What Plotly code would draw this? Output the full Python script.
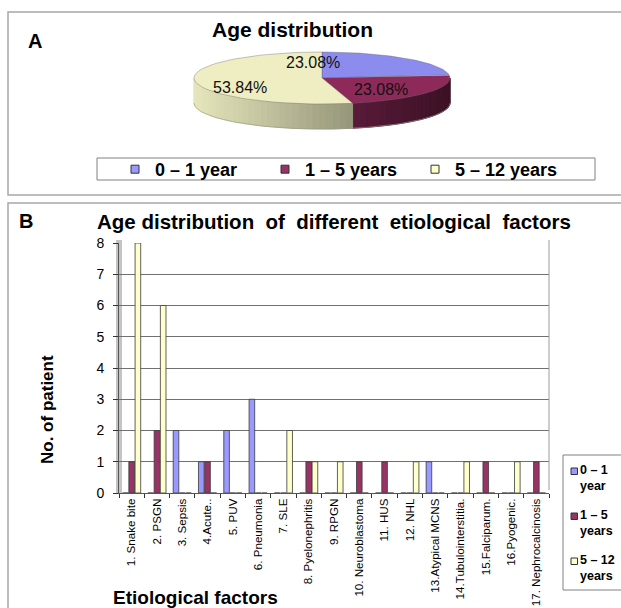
import numpy as np
import plotly.graph_objects as go

W, H = 621, 608

# ---------------- Data ----------------
# Panel A: age distribution (pie)
age_groups = ["0 – 1 year", "1 – 5 years", "5 – 12 years"]
age_pct = [23.08, 23.08, 53.84]

# Panel B: age distribution of different etiological factors
factors = ["1. Snake bite", "2. PSGN", "3. Sepsis", "4.Acute..", "5. PUV",
           "6. Pneumonia", "7. SLE", "8. Pyelonephritis", "9. RPGN",
           "10. Neuroblastoma", "11. HUS", "12. NHL", "13.Atypical MCNS",
           "14.Tubulointerstitia.", "15.Falciparum.", "16.Pyogenic.",
           "17. Nephrocalcinosis"]
age_0_1 = [0, 0, 2, 1, 2, 3, 0, 0, 0, 0, 0, 0, 1, 0, 0, 0, 0]
age_1_5 = [1, 2, 0, 1, 0, 0, 0, 1, 0, 1, 1, 0, 0, 0, 1, 0, 1]
age_5_12 = [8, 6, 0, 0, 0, 0, 2, 1, 1, 0, 0, 1, 0, 1, 0, 1, 0]
bar_names = [("0 – 1", "year"), ("1 – 5", "years"), ("5 – 12", "years")]
y_ticks = [0, 1, 2, 3, 4, 5, 6, 7, 8]

# ---------------- Styles ----------------
FONT = "Arial, Liberation Sans, sans-serif"
top_colors = [(0x8C, 0x8C, 0xEE), (0x8E, 0x2A, 0x5A), (0xEE, 0xEE, 0xC2)]
bar_colors = ["#9999FF", "#993366", "#FFFFCC"]


def px(x):
    return x / W


def py(y):
    return 1 - y / H


def rgb(c, k=1.0):
    return "rgb(%d,%d,%d)" % tuple(max(0, min(255, int(v * k))) for v in c)


def text(x, y, s, size, angle=0, xanchor="center", align="center"):
    fig.add_annotation(x=px(x), y=py(y), xref="paper", yref="paper", text=s,
                       textangle=angle, xanchor=xanchor, yanchor="middle", align=align,
                       showarrow=False, font=dict(family=FONT, size=size, color="#000"))


fig = go.Figure()

# ---------------- Panel A: pseudo-3D pie on a pixel axis ----------------
cx, cy, ra, rb, depth = 322, 78, 128, 26, 25
total = sum(age_pct)
bounds = np.concatenate([[0], np.cumsum(age_pct) / total * 360.0])


def ell(theta_deg, dy=0.0):
    t = np.radians(theta_deg)
    return cx + ra * np.sin(t), cy - rb * np.cos(t) + dy


# side walls (front half only: 90..270 deg clockwise from top)
for i in range(len(age_pct)):
    s, e = max(bounds[i], 90), min(bounds[i + 1], 270)
    if s >= e:
        continue
    n = max(2, int((e - s) / 3) + 1)
    edges = np.linspace(s, e, n)
    for j in range(len(edges) - 1):
        th = np.linspace(edges[j], edges[j + 1], 4)
        xt, yt = ell(th)
        xb, yb = ell(th[::-1], depth)
        f = (np.mean(xt) - (cx - ra)) / (2 * ra)
        col = rgb(top_colors[i], 0.97 - 0.55 * f)
        fig.add_trace(go.Scatter(
            x=np.concatenate([xt, xb, xt[:1]]), y=np.concatenate([yt, yb, yt[:1]]),
            mode="lines", fill="toself", fillcolor=col,
            line=dict(color=col, width=1), xaxis="x2", yaxis="y2",
            showlegend=False, hoverinfo="skip"))

# outline of the bottom rim
thb = np.linspace(90, 270, 80)
xb, yb = ell(thb, depth)
fig.add_trace(go.Scatter(x=xb, y=yb, mode="lines", line=dict(color="#9a9a8a", width=0.6),
                         xaxis="x2", yaxis="y2", showlegend=False, hoverinfo="skip"))

# top faces
for i in range(len(age_pct)):
    th = np.linspace(bounds[i], bounds[i + 1], 60)
    xt, yt = ell(th)
    xs = np.concatenate([[cx], xt, [cx]])
    ys = np.concatenate([[cy], yt, [cy]])
    fig.add_trace(go.Scatter(
        x=xs, y=ys, mode="lines", fill="toself", fillcolor=rgb(top_colors[i]),
        line=dict(color="rgba(90,90,90,0.6)", width=0.6),
        xaxis="x2", yaxis="y2", name=age_groups[i], showlegend=False, hoverinfo="skip"))

# legend entries for panel A (small square keys)
for i in range(len(age_pct)):
    fig.add_trace(go.Scatter(
        x=[None], y=[None], mode="markers", name=age_groups[i], legend="legend",
        marker=dict(symbol="square", size=8, color=bar_colors[i],
                    line=dict(color="#333", width=1)),
        xaxis="x2", yaxis="y2", showlegend=True))

# pie percentage labels
pie_label_pos = [(313, 62), (381, 89), (240, 87)]
for i, (lx, ly) in enumerate(pie_label_pos):
    fig.add_annotation(x=lx, y=ly, xref="x2", yref="y2", showarrow=False,
                       xanchor="center", yanchor="middle",
                       text="%.2f%%" % age_pct[i],
                       font=dict(family=FONT, size=16, color="#111"))

# ---------------- Panel B: grouped bars ----------------
for (n1, n2), vals, col in zip(bar_names, [age_0_1, age_1_5, age_5_12], bar_colors):
    fig.add_trace(go.Bar(
        x=factors, y=vals, name=n1 + " " + n2,
        marker=dict(color=col, line=dict(color="#3a3a3a", width=0.8)),
        xaxis="x", yaxis="y", showlegend=False))

# 3D wall strip and right border of plot area
fig.add_shape(type="rect", xref="paper", yref="paper", x0=px(116), x1=px(122),
              y0=py(493), y1=py(240), fillcolor="#C4C4C4", line=dict(width=0), layer="below")
fig.add_shape(type="line", xref="paper", yref="paper", x0=px(549), x1=px(549),
              y0=py(490), y1=py(240), line=dict(color="#9a9a9a", width=1))

# panel boxes
fig.add_shape(type="rect", xref="paper", yref="paper", x0=px(8), x1=px(622),
              y0=py(195), y1=py(12), line=dict(color="#A8A8A8", width=1.5))
fig.add_shape(type="rect", xref="paper", yref="paper", x0=px(8), x1=px(622),
              y0=py(612), y1=py(203), line=dict(color="#A8A8A8", width=1.5))
# legend frame, panel A
fig.add_shape(type="rect", xref="paper", yref="paper", x0=px(97), x1=px(595),
              y0=py(180), y1=py(158), line=dict(color="#808080", width=1))

# legend, panel B (box runs past the right edge as in the original)
fig.add_shape(type="rect", xref="paper", yref="paper", x0=px(563), x1=px(630),
              y0=py(590), y1=py(455), line=dict(color="#808080", width=1))
key_y = [471, 516, 561]
for i, ((n1, n2), ky) in enumerate(zip(bar_names, key_y)):
    fig.add_shape(type="rect", xref="paper", yref="paper", x0=px(571), x1=px(577.5),
                  y0=py(ky + 3.5), y1=py(ky - 3), fillcolor=bar_colors[i],
                  line=dict(color="#333", width=1))
    text(578, ky + 7, "<b>%s</b><br><b>%s</b>" % (n1, n2), 12.5, xanchor="left", align="left")

# titles and labels
text(35, 41, "<b>A</b>", 20)
text(292, 30, "<b>Age distribution</b>", 21)
text(26, 221, "<b>B</b>", 20)
text(334, 222, "<b>Age distribution  of  different  etiological  factors</b>", 20.5)
text(47, 410, "<b>No. of patient</b>", 17, angle=-90)
text(195, 597, "<b>Etiological factors</b>", 19)

fig.update_layout(
    width=W, height=H, margin=dict(l=0, r=0, t=0, b=0, autoexpand=False),
    paper_bgcolor="white", plot_bgcolor="rgba(0,0,0,0)",
    barmode="group", bargap=0.26, bargroupgap=0.1,
    font=dict(family=FONT, color="#000"),
    xaxis=dict(domain=[px(119), px(549)], anchor="y", type="category",
               categoryorder="array", categoryarray=factors, automargin=False,
               tickangle=-90, tickfont=dict(size=11.6), ticks="outside", ticklen=4,
               tickson="boundaries", tickcolor="#333", showline=True, linecolor="#555",
               showgrid=False),
    yaxis=dict(domain=[py(493), py(243)], anchor="x", range=[0, 8], automargin=False,
               tickvals=y_ticks, tickfont=dict(size=14), ticks="outside", ticklen=5,
               ticklabelstandoff=6,
               tickcolor="#333", showline=True, linecolor="#555",
               showgrid=True, gridcolor="#707070", gridwidth=1, zeroline=False),
    xaxis2=dict(domain=[0, 1], range=[0, W], visible=False, fixedrange=True,
                anchor="y2", automargin=False),
    yaxis2=dict(domain=[0, 1], range=[H, 0], visible=False, fixedrange=True,
                anchor="x2", automargin=False),
    legend=dict(orientation="h", x=px(115), y=py(151), xanchor="left", yanchor="top",
                borderwidth=0, bgcolor="rgba(0,0,0,0)",
                font=dict(family=FONT, size=18, weight="bold"),
                entrywidth=105, itemwidth=30, traceorder="normal"),
)

fig.write_html("out.html", config={"displayModeBar": False},
               post_script="document.body.style.margin='0';document.body.style.overflow='hidden';")
